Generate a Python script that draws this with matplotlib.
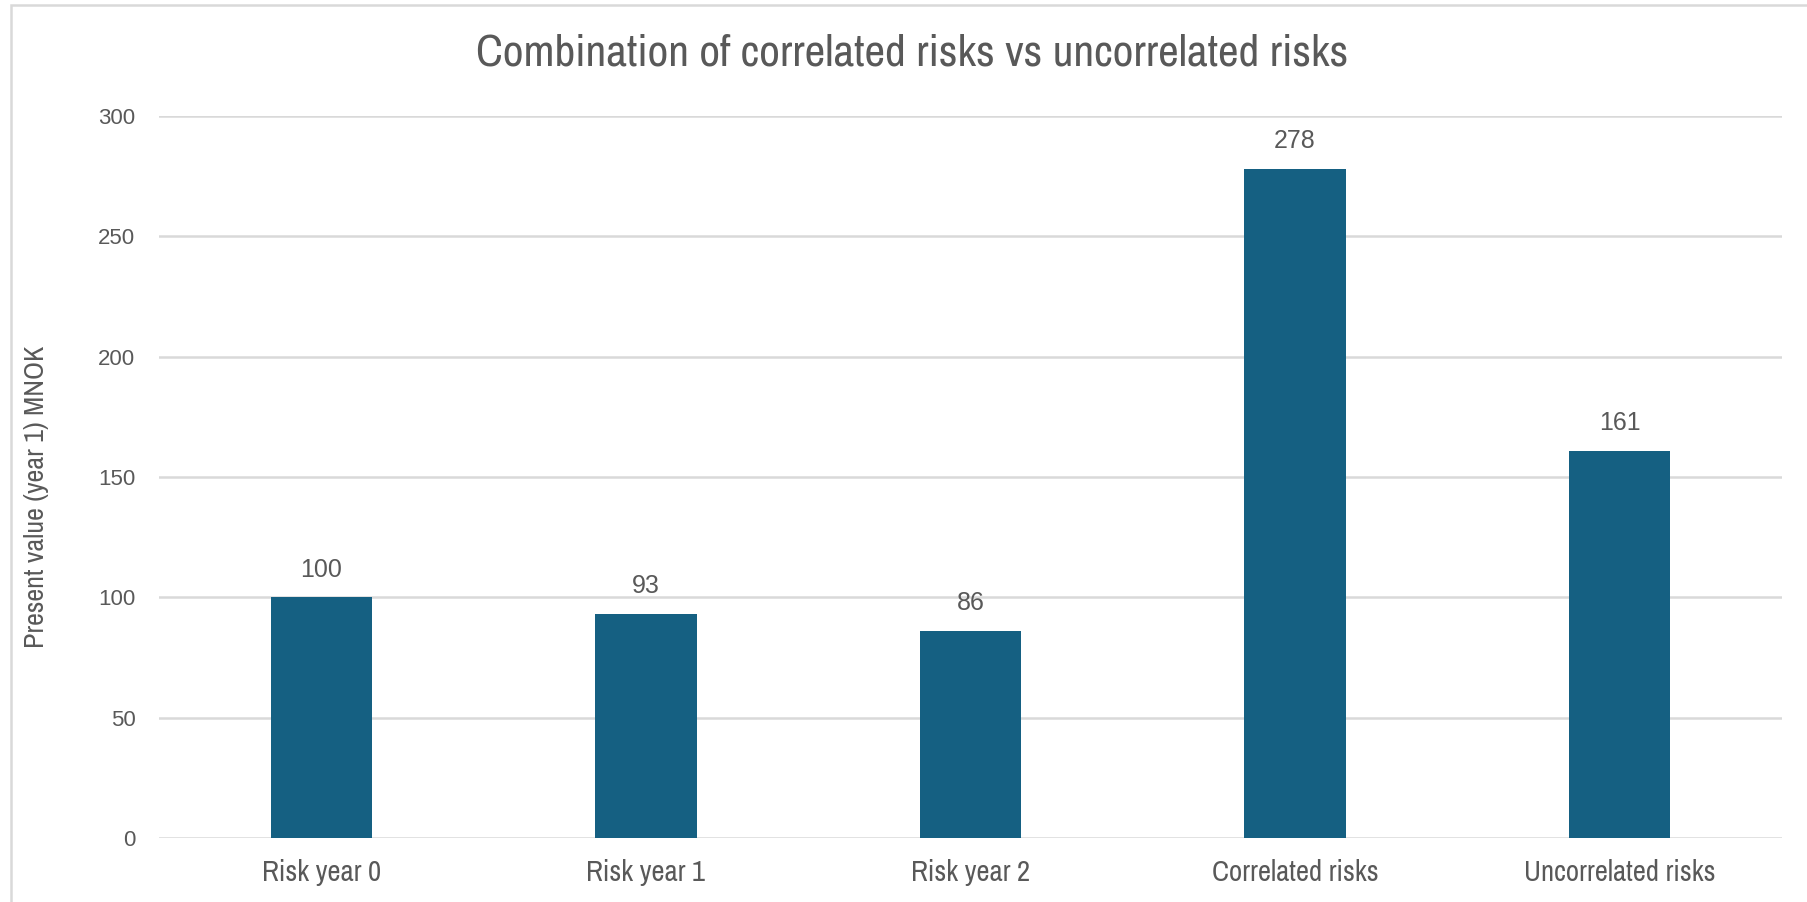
import matplotlib
matplotlib.use("Agg")
import matplotlib.pyplot as plt
from matplotlib import font_manager
from matplotlib.patches import Rectangle

categories = ["Risk year 0", "Risk year 1", "Risk year 2", "Correlated risks", "Uncorrelated risks"]
values = [100, 93, 86, 278, 161]
yticks = [0, 50, 100, 150, 200, 250, 300]

title = "Combination of correlated risks vs uncorrelated risks"
ylabel = "Present value (year 1) MNOK"


def pick_narrow_font():
    fonts = font_manager.fontManager.ttflist
    for f in fonts:
        if "Narrow" in f.name or "Condensed" in f.name:
            return f.name, "normal"
    for f in fonts:
        if f.stretch in ("condensed", "semi-condensed", "extra-condensed", 500 - 125):
            return f.name, f.stretch
    names = {f.name for f in fonts}
    for n in ("Roboto", "Lato", "Liberation Sans"):
        if n in names:
            return n, "normal"
    return "DejaVu Sans", "normal"


available = {f.name for f in font_manager.fontManager.ttflist}
narrow, narrow_stretch = pick_narrow_font()
regular = "Liberation Sans" if "Liberation Sans" in available else "DejaVu Sans"

bar_color = "#156082"
grid_color = "#D9D9D9"
text_color = "#595959"

W, H, DPI = 1807, 902, 100
fig = plt.figure(figsize=(W / DPI, H / DPI), dpi=DPI)
fig.patch.set_facecolor("white")

# chart-area border (left and top edges visible)
fig.add_artist(Rectangle((11 / W, -0.1), 1.2, 1 - 5 / H + 0.1, transform=fig.transFigure,
                         fill=False, edgecolor=grid_color, linewidth=1.8))

left, right = 159 / W, 1782 / W
bottom, top = (H - 838) / H, (H - 116) / H
ax = fig.add_axes([left, bottom, right - left, top - bottom])

x = range(len(categories))
bars = ax.bar(x, values, width=0.313, color=bar_color, zorder=3)

ax.set_xlim(-0.5, len(categories) - 0.5)
ax.set_ylim(0, 300)
ax.set_yticks(yticks)
ax.set_yticklabels([str(t) for t in yticks], fontfamily=regular, fontsize=16, color=text_color)
ax.set_xticks(list(x))
xtl = ax.set_xticklabels(categories, fontfamily=narrow, fontstretch=narrow_stretch,
                         fontsize=17, color=text_color)
ax.tick_params(axis="both", length=0)
ax.tick_params(axis="y", pad=17)
ax.tick_params(axis="x", pad=15)

ax.grid(axis="y", color=grid_color, linewidth=1.8, zorder=0)
ax.set_axisbelow(True)
for s in ax.spines.values():
    s.set_visible(False)

for rect, v in zip(bars, values):
    ax.annotate(str(v), (rect.get_x() + rect.get_width() / 2, v), xytext=(0, 20),
                textcoords="offset points", ha="center", va="center",
                fontfamily=regular, fontsize=18, color=text_color)

ylab = fig.text(37 / W, 1 - 497 / H, ylabel, rotation=90, ha="center", va="center",
                fontfamily=narrow, fontstretch=narrow_stretch, fontsize=18, color=text_color)
ttl = fig.text(912 / W, 1 - 54 / H, title, ha="center", va="center",
               fontfamily=narrow, fontstretch=narrow_stretch, fontsize=26, color=text_color)

# size the narrow-font texts to their intended pixel extents
fig.canvas.draw()
renderer = fig.canvas.get_renderer()


def fit(text_obj, target, vertical=False):
    bb = text_obj.get_window_extent(renderer)
    span = bb.height if vertical else bb.width
    return text_obj.get_fontsize() * target / span


ttl.set_fontsize(fit(ttl, 871))
ylab.set_fontsize(fit(ylab, 303, vertical=True))
xsize = fit(xtl[-1], 191)
for t in xtl:
    t.set_fontsize(xsize)

fig.savefig("out.png", dpi=DPI)
